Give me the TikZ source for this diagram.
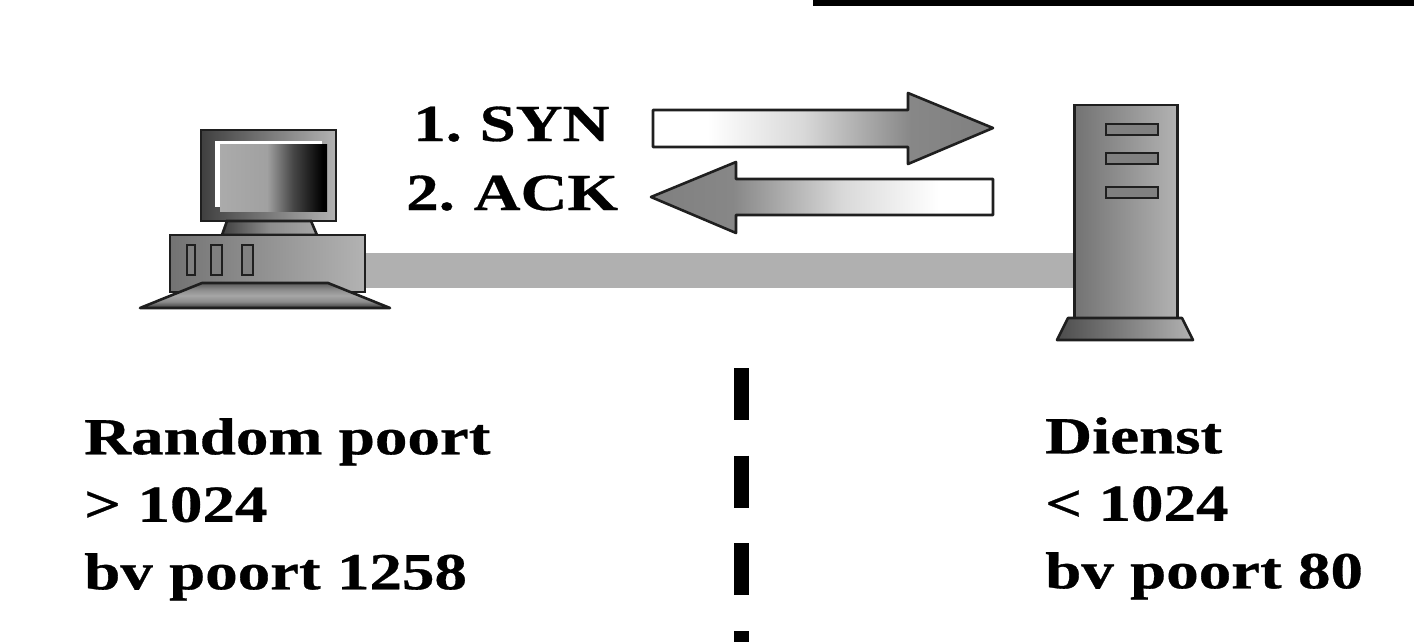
\documentclass[tikz,border=0pt]{standalone}
\usepackage{fontspec}
\usepackage{tikz}
\newfontfamily\labelfont{Liberation Serif}[FakeStretch=1.25,BoldFeatures={FakeBold=0.6}]
\pgfdeclarehorizontalshading{screenfade}{100bp}{
  color(0bp)=(black!33); color(25bp)=(black!33); color(47bp)=(black!37);
  color(59bp)=(black!72); color(73bp)=(black); color(100bp)=(black)}
\pgfdeclarehorizontalshading{arrowfade}{100bp}{
  color(0bp)=(white); color(33bp)=(white); color(47bp)=(black!15);
  color(57bp)=(black!35); color(63bp)=(black!47); color(75bp)=(black!50); color(100bp)=(black!50)}
\pgfdeclareverticalshading{footfade}{100bp}{
  color(0bp)=(black!85); color(28bp)=(black!70); color(38bp)=(black!45);
  color(50bp)=(black!35); color(62bp)=(black!45); color(72bp)=(black!60); color(100bp)=(black!75)}

\begin{document}
\begin{tikzpicture}[x=1pt,y=-1pt]
\tikzstyle{every node}=[inner sep=0pt,font=\labelfont\bfseries\fontsize{52}{67.5}\selectfont,align=left];
\tikzstyle{part}=[draw=black!88,line width=2.6pt];
\tikzstyle{bezel}=[part,left color=black!75,right color=black!30];
\tikzstyle{body}=[part,left color=black!55,right color=black!30];
\tikzstyle{slot}=[part,fill=black!50];
\tikzstyle{blockarrow}=[part,shading=arrowfade];
\useasboundingbox (0,0) rectangle (1414,642);
% top edge
\fill[black] (813,0) rectangle (1414,6);
% link
\coordinate (pcport) at (365,270.5);
\coordinate (srvport) at (1075,270.5);
\draw[line width=35pt,draw=black!31] (pcport) -- (srvport);
% computer
\draw[bezel] (201,130) rectangle (336,221);
\fill[white] (215,141) rectangle (322,207);
\fill[shading=screenfade] (220,144) rectangle (327,211);
\draw[part,left color=black!75,right color=black!35,middle color=black!45] (227,221) -- (311,221) -- (317,235) -- (222,235) -- cycle;
\draw[body] (170,235) rectangle (365,292);
\draw[slot] (187,245) rectangle (195,275);
\draw[slot] (211,245) rectangle (222,275);
\draw[slot] (242,245) rectangle (253,275);
\draw[part,shading=footfade,line join=round] (202,283) -- (328,283) -- (390,308) -- (140,308) -- cycle;
% server
\draw[body] (1074.5,105) rectangle (1177.5,318);
\foreach \y in {124,153,187}
  \draw[slot] (1106,\y) rectangle (1158,\y+11);
\draw[part,left color=black!70,right color=black!30,line join=round] (1068,318) -- (1182,318) -- (1193,340) -- (1057,340) -- cycle;
% arrows
\draw[blockarrow,line join=round] (653,110) -- (908,110) -- (908,93) -- (993,128) -- (908,164) -- (908,147) -- (653,147) -- cycle;
\draw[blockarrow,shading angle=180,line join=round] (993,179) -- (736,179) -- (736,162) -- (651,197) -- (736,233) -- (736,215) -- (993,215) -- cycle;
% divider
\coordinate (divtop) at (741.5,368);
\coordinate (divbot) at (741.5,642);
\draw[line width=15pt,draw=black,dash pattern=on 52pt off 35.7pt] (divtop) -- (divbot);
% labels
\path (413,141) node[anchor=base west] (syn) {1.\hspace{-4pt} SYN};
\path (406,210) node[anchor=base west] (ack) {2.\hspace{-3pt} ACK};
\path (84,418) node[anchor=north west] (client) {Random poort\\> 1024\\bv poort 1258};
\path (1045,417) node[anchor=north west] (service) {Dienst\\< 1024\\bv poort 80};
\end{tikzpicture}
\end{document}
